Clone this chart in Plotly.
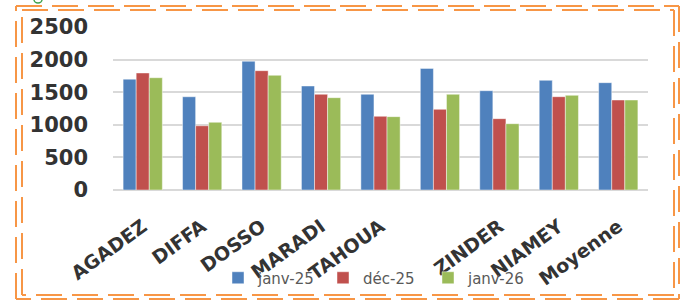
import plotly.graph_objects as go

categories = ["AGADEZ", "DIFFA", "DOSSO", "MARADI", "TAHOUA", "TILLABERI", "ZINDER", "NIAMEY", "Moyenne"]
tick_labels = ["AGADEZ", "DIFFA", "DOSSO", "MARADI", "TAHOUA", "", "ZINDER", "NIAMEY", "Moyenne"]
series_names = ["janv-25", "déc-25", "janv-26"]
janv25 = [1700, 1430, 1975, 1595, 1468, 1865, 1523, 1682, 1646]
dec25 = [1795, 985, 1830, 1468, 1130, 1237, 1094, 1431, 1380]
janv26 = [1722, 1038, 1759, 1416, 1125, 1468, 1017, 1452, 1380]
y_ticks = [0, 500, 1000, 1500, 2000, 2500]

colors = ["#4F81BD", "#C0504D", "#9BBB59"]
positions = list(range(len(categories)))

fig = go.Figure()
for name, vals, col in zip(series_names, [janv25, dec25, janv26], colors):
    fig.add_trace(go.Bar(
        x=positions, y=vals, name=name,
        marker=dict(color=col, line=dict(color="rgba(255,255,255,0.45)", width=1)),
        hovertext=categories,
    ))

W, H = 681, 301
L, R, T, B = 113, 648, 27, 190

def px(x):
    return (x - L) / (R - L)

def py(y):
    return (B - y) / (B - T)

shapes = []
orange = "#F79646"
for (x0, y0, x1, y1) in [(16, 6, 679, 299), (22, 10, 674, 295)]:
    for seg in [((x0, y0), (x1, y0)), ((x1, y0), (x1, y1)), ((x1, y1), (x0, y1)), ((x0, y1), (x0, y0))]:
        (a, b), (c, d) = seg
        shapes.append(dict(type="line", xref="paper", yref="paper",
                           x0=px(a), y0=py(b), x1=px(c), y1=py(d),
                           line=dict(color=orange, width=2, dash="26px,10px")))
shapes.append(dict(type="circle", xref="paper", yref="paper",
                   x0=px(34), y0=py(-4), x1=px(42), y1=py(3),
                   line=dict(color="#3FA34D", width=1.5)))

fig.update_layout(
    width=W, height=H,
    margin=dict(l=L, r=W - R, t=T, b=H - B, pad=0, autoexpand=False),
    paper_bgcolor="white", plot_bgcolor="white",
    barmode="group", bargap=0.34, bargroupgap=0,
    showlegend=True,
    legend=dict(orientation="h", x=px(218), y=py(278), xanchor="left", yanchor="middle",
                font=dict(family="DejaVu Sans", size=15, color="#595959"),
                itemwidth=30, entrywidth=60, entrywidthmode="pixels",
                bgcolor="rgba(0,0,0,0)", traceorder="normal"),
    xaxis=dict(tickmode="array", tickvals=positions, ticktext=tick_labels,
               range=[-0.5, len(categories) - 0.5], tickangle=-36,
               tickfont=dict(family="DejaVu Sans", size=19, color="#333333", weight="bold"),
               showgrid=False, zeroline=False, showline=False, ticks="",
               ticklabelstandoff=21),
    yaxis=dict(range=[0, 2500], tickvals=y_ticks,
               tickfont=dict(family="DejaVu Sans", size=21, color="#333333", weight="bold"),
               showgrid=True, gridcolor="#D9D9D9", gridwidth=2,
               zeroline=True, zerolinecolor="#D9D9D9", zerolinewidth=2,
               showline=False, ticks="", ticklabelstandoff=24),
    shapes=shapes,
)

fig.write_html("out.html", config={"displayModeBar": False},
               post_script="document.body.style.margin='0';document.body.style.overflow='hidden';")
